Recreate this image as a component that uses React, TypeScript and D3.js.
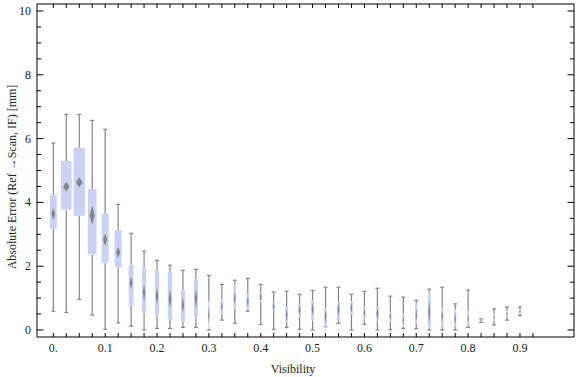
import React, { useEffect } from "react";
import * as d3 from "d3";

const visibility = [0, 0.025, 0.05, 0.075, 0.1, 0.125, 0.15, 0.175, 0.2, 0.225, 0.25, 0.275, 0.3, 0.325, 0.35, 0.375, 0.4, 0.425, 0.45, 0.475, 0.5, 0.525, 0.55, 0.575, 0.6, 0.625, 0.65, 0.675, 0.7, 0.725, 0.75, 0.775, 0.8, 0.825, 0.85, 0.875, 0.9];
const whiskerLow = [0.59, 0.55, 0.96, 0.47, 0.02, 0.22, 0.12, 0.0, 0.05, 0.05, 0.08, 0.08, 0.0, 0.31, 0.21, 0.59, 0.17, 0.02, 0.08, 0.02, 0.0, 0.1, 0.21, 0.0, 0.18, 0.0, 0.01, 0.05, 0.04, 0.0, 0.0, 0.0, 0.08, 0.24, 0.16, 0.31, 0.45];
const quartile1 = [3.18, 3.77, 3.58, 2.37, 2.11, 1.97, 0.76, 0.54, 0.45, 0.35, 0.26, 0.42, 0.05, 0.52, 0.67, 0.63, 0.86, 0.61, 0.23, 0.42, 0.3, 0.1, 0.31, 0.49, 0.35, 0.29, 0.26, 0.1, 0.19, 0.07, 0.1, 0.1, 0.15, 0.27, 0.3, 0.45, 0.52];
const median = [3.64, 4.49, 4.63, 3.6, 2.83, 2.43, 1.48, 1.17, 1.06, 0.97, 0.78, 0.99, 0.47, 0.73, 0.99, 0.89, 1.04, 0.74, 0.47, 0.62, 0.65, 0.42, 0.63, 0.7, 0.55, 0.51, 0.42, 0.31, 0.47, 0.57, 0.42, 0.35, 0.35, 0.3, 0.4, 0.52, 0.58];
const quartile3 = [4.23, 5.3, 5.71, 4.42, 3.64, 3.13, 2.05, 2.0, 1.88, 1.82, 1.25, 1.6, 0.89, 0.97, 1.44, 1.13, 1.19, 0.88, 0.71, 0.82, 0.93, 0.68, 0.87, 0.9, 0.72, 0.72, 0.56, 0.51, 0.82, 1.17, 0.68, 0.65, 0.6, 0.33, 0.5, 0.6, 0.65];
const whiskerHigh = [5.86, 6.76, 6.76, 6.57, 6.29, 3.94, 3.03, 2.47, 2.18, 2.03, 1.87, 1.9, 1.71, 1.43, 1.56, 1.62, 1.43, 1.19, 1.22, 1.12, 1.24, 1.34, 1.34, 1.12, 1.21, 1.31, 1.06, 1.03, 0.93, 1.28, 1.34, 0.82, 1.25, 0.35, 0.66, 0.72, 0.72];
const sampleWeight = [0.52, 0.82, 0.87, 0.67, 0.54, 0.54, 0.38, 0.31, 0.31, 0.33, 0.31, 0.31, 0.1, 0.21, 0.21, 0.21, 0.21, 0.21, 0.21, 0.21, 0.23, 0.21, 0.23, 0.21, 0.18, 0.23, 0.18, 0.15, 0.18, 0.23, 0.18, 0.18, 0.13, 0.15, 0.08, 0.08, 0.15];
const medianSpread = [0.19, 0.16, 0.16, 0.3, 0.2, 0.17, 0.2, 0.27, 0.27, 0.3, 0.25, 0.3, 0.3, 0.15, 0.2, 0.15, 0.12, 0.12, 0.2, 0.15, 0.2, 0.2, 0.2, 0.15, 0.15, 0.18, 0.12, 0.15, 0.2, 0.35, 0.2, 0.2, 0.15, 0.03, 0.1, 0.08, 0.06];

const xTickLabels = ["0.", "0.1", "0.2", "0.3", "0.4", "0.5", "0.6", "0.7", "0.8", "0.9"];
const xLabelValues = [0, 0.1, 0.2, 0.3, 0.4, 0.5, 0.6, 0.7, 0.8, 0.9];
const yMajorTicks = [0, 2, 4, 6, 8, 10];

const W = 576;
const H = 377;
const L = 37, R = 574, T = 4, B = 337;
const FONT = "'Liberation Serif', 'DejaVu Serif', serif";

export default function App() {
  useEffect(() => {
    document.body.style.margin = "0";
  }, []);

  const x = d3.scaleLinear().domain([-0.0315, 1.0042]).range([L, R]);
  const y = d3.scaleLinear().domain([-0.22, 10.22]).range([B, T]);
  const step = x(0.025) - x(0);

  const xMinor = d3.range(0, 38).map((k) => k * 0.025);
  const yMinor = d3.range(0, 21).map((k) => k * 0.5).filter((v) => v % 2 !== 0);

  const boxColor = "#c9d1f5";
  const whiskerColor = "#858585";

  return (
    <svg width={W} height={H} style={{ position: "absolute", left: 0, top: 0, background: "#fff" }}>
      {visibility.map((v, i) => {
        const cx = x(v);
        const bw = sampleWeight[i] * step;
        const capW = 4;
        const yq1 = y(quartile1[i]);
        const yq3 = y(quartile3[i]);
        const ym = y(median[i]);
        const dh = Math.abs(y(medianSpread[i]) - y(0));
        const dw = Math.max(bw * 0.6, 1.2);
        return (
          <g key={i}>
            <line x1={cx} x2={cx} y1={y(whiskerHigh[i])} y2={yq3} stroke={whiskerColor} strokeWidth={1.2} />
            <line x1={cx} x2={cx} y1={yq1} y2={y(whiskerLow[i])} stroke={whiskerColor} strokeWidth={1.2} />
            <line x1={cx - capW / 2} x2={cx + capW / 2} y1={y(whiskerHigh[i])} y2={y(whiskerHigh[i])} stroke={whiskerColor} strokeWidth={1.2} />
            <line x1={cx - capW / 2} x2={cx + capW / 2} y1={y(whiskerLow[i])} y2={y(whiskerLow[i])} stroke={whiskerColor} strokeWidth={1.2} />
            <rect x={cx - bw / 2} y={yq3} width={bw} height={Math.max(yq1 - yq3, 0.5)} fill={boxColor} />
            <polygon
              points={`${cx},${ym - dh} ${cx + dw / 2},${ym} ${cx},${ym + dh} ${cx - dw / 2},${ym}`}
              fill="#7d7d7d"
              opacity={0.9}
            />
          </g>
        );
      })}

      {/* frame */}
      <rect x={L} y={T} width={R - L} height={B - T} fill="none" stroke="#000" strokeWidth={1} />

      {/* x ticks bottom & top */}
      {xMinor.map((v, i) => (
        <g key={"xt" + i}>
          <line x1={x(v)} x2={x(v)} y1={B} y2={B - 4} stroke="#000" />
          <line x1={x(v)} x2={x(v)} y1={T} y2={T + 4} stroke="#000" />
        </g>
      ))}
      {xLabelValues.map((v, i) => (
        <text key={"xl" + i} x={x(v)} y={352} textAnchor="middle" fontFamily={FONT} fontSize={12} fill="#222">
          {xTickLabels[i]}
        </text>
      ))}

      {/* y ticks */}
      {yMajorTicks.map((v, i) => (
        <g key={"ym" + i}>
          <line x1={L} x2={L + 6.5} y1={y(v)} y2={y(v)} stroke="#000" />
          <line x1={R} x2={R - 6.5} y1={y(v)} y2={y(v)} stroke="#000" />
          <text x={31} y={y(v) + 4} textAnchor="end" fontFamily={FONT} fontSize={12} fill="#222">
            {String(v)}
          </text>
        </g>
      ))}
      {yMinor.map((v, i) => (
        <g key={"yn" + i}>
          <line x1={L} x2={L + 4} y1={y(v)} y2={y(v)} stroke="#000" />
          <line x1={R} x2={R - 4} y1={y(v)} y2={y(v)} stroke="#000" />
        </g>
      ))}

      <text x={293} y={373} textAnchor="middle" fontFamily={FONT} fontSize={12} fill="#222">
        Visibility
      </text>
      <text
        transform={`translate(16, 177) rotate(-90)`}
        textAnchor="middle"
        fontFamily={FONT}
        fontSize={12}
        fill="#222"
      >
        Absolute Error (Ref →Scan, IF) [mm]
      </text>
    </svg>
  );
}
